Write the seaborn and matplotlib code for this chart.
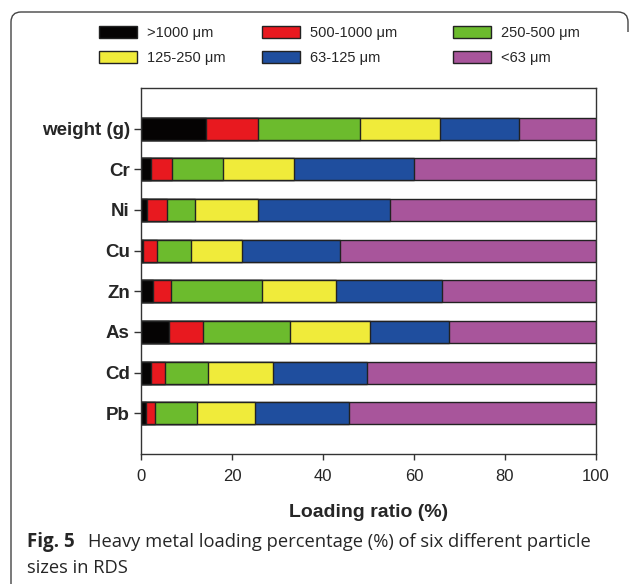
import numpy as np
import pandas as pd
import matplotlib
matplotlib.use("Agg")
import matplotlib.pyplot as plt
import seaborn as sns
from matplotlib.patches import Patch, PathPatch
from matplotlib.path import Path

# categories (top to bottom) and size fractions (%)
categories = ["weight (g)", "Cr", "Ni", "Cu", "Zn", "As", "Cd", "Pb"]
sizes = [">1000 μm", "500-1000 μm", "250-500 μm", "125-250 μm", "63-125 μm", "<63 μm"]
colors = ["#050303", "#e8191f", "#6cbb2d", "#f0eb3a", "#1f4e9e", "#a8559b"]

gt1000   = [14.2, 2.3, 1.3, 0.4, 2.6, 6.2, 2.1, 1.1]
s500_1000 = [11.5, 4.6, 4.4, 3.1, 4.1, 7.4, 3.1, 2.0]
s250_500 = [22.5, 11.1, 6.2, 7.4, 19.9, 19.2, 9.5, 9.3]
s125_250 = [17.5, 15.7, 13.8, 11.4, 16.3, 17.6, 14.3, 12.7]
s63_125  = [17.3, 26.4, 29.0, 21.5, 23.3, 17.3, 20.7, 20.7]
lt63     = [17.0, 39.9, 45.3, 56.2, 33.8, 32.3, 50.3, 54.2]

df = pd.DataFrame({"cat": categories, sizes[0]: gt1000, sizes[1]: s500_1000,
                   sizes[2]: s250_500, sizes[3]: s125_250, sizes[4]: s63_125,
                   sizes[5]: lt63})
cum = df[sizes].cumsum(axis=1)

sns.set_style("ticks")
plt.rcParams['font.family'] = ['Liberation Sans', 'DejaVu Sans']

fig = plt.figure(figsize=(6.3, 5.84), dpi=100)
ax = fig.add_axes([141/630, 1-454/584, 455/630, 366/584])

# stacked bars: draw widest cumulative layer first
for i in range(len(sizes) - 1, -1, -1):
    sns.barplot(x=cum[sizes[i]].values, y=df["cat"], orient="h", color=colors[i],
                width=0.54, edgecolor="#222222", linewidth=1.0, saturation=1, ax=ax)

ax.set_xlim(0, 100)
ax.set_ylim(8.0, -1.0)
ax.set_xticks([0, 20, 40, 60, 80, 100])
ax.tick_params(axis="x", labelsize=12, length=4, width=1, color="#333333", pad=7)
ax.tick_params(axis="y", labelsize=13.5, length=5, width=1, color="#333333", pad=3)
for lab in ax.get_yticklabels():
    lab.set_fontweight("bold")
for s in ax.spines.values():
    s.set_color("#333333")
    s.set_linewidth(1)
ax.set_ylabel("")
ax.set_xlabel("Loading ratio (%)", fontsize=14, fontweight="bold", labelpad=14)

# legend in three columns placed separately
col_x = [99/630, 262/630, 453/630]
for c in range(3):
    hs = [Patch(facecolor=colors[c], edgecolor="#222222", lw=1, label=sizes[c]),
          Patch(facecolor=colors[c + 3], edgecolor="#222222", lw=1, label=sizes[c + 3])]
    fig.legend(handles=hs, loc="upper left", bbox_to_anchor=(col_x[c], 1 - 26/584),
               frameon=False, fontsize=10.5, handlelength=2.6, handleheight=0.85,
               handletextpad=0.7, labelspacing=0.75, borderpad=0, borderaxespad=0)

# caption
cap_font = ["Open Sans", "DejaVu Sans"]
fig.text(27/630, 1 - 547/584, "Fig. 5", fontsize=13.5, fontweight="bold",
         family=cap_font, va="baseline")
fig.text(88/630, 1 - 547/584, "Heavy metal loading percentage (%) of six different particle",
         fontsize=13.2, family=cap_font, va="baseline")
fig.text(27/630, 1 - 573/584, "sizes in RDS", fontsize=13.2,
         family=cap_font, va="baseline")

# frame around figure (rounded top corners, open right side)
W, H = 630, 584
def p(x, y):
    return (x / W, 1 - y / H)
verts = [p(11, 584), p(11, 22), p(11, 12), p(21, 12), p(618, 12), p(628, 12), p(628, 22), p(628, 32)]
codes = [Path.MOVETO, Path.LINETO, Path.CURVE3, Path.CURVE3, Path.LINETO,
         Path.CURVE3, Path.CURVE3, Path.LINETO]
fig.patches.append(PathPatch(Path(verts, codes), transform=fig.transFigure,
                             fill=False, edgecolor="#444444", lw=1.0))

fig.savefig("out.png", dpi=100)
